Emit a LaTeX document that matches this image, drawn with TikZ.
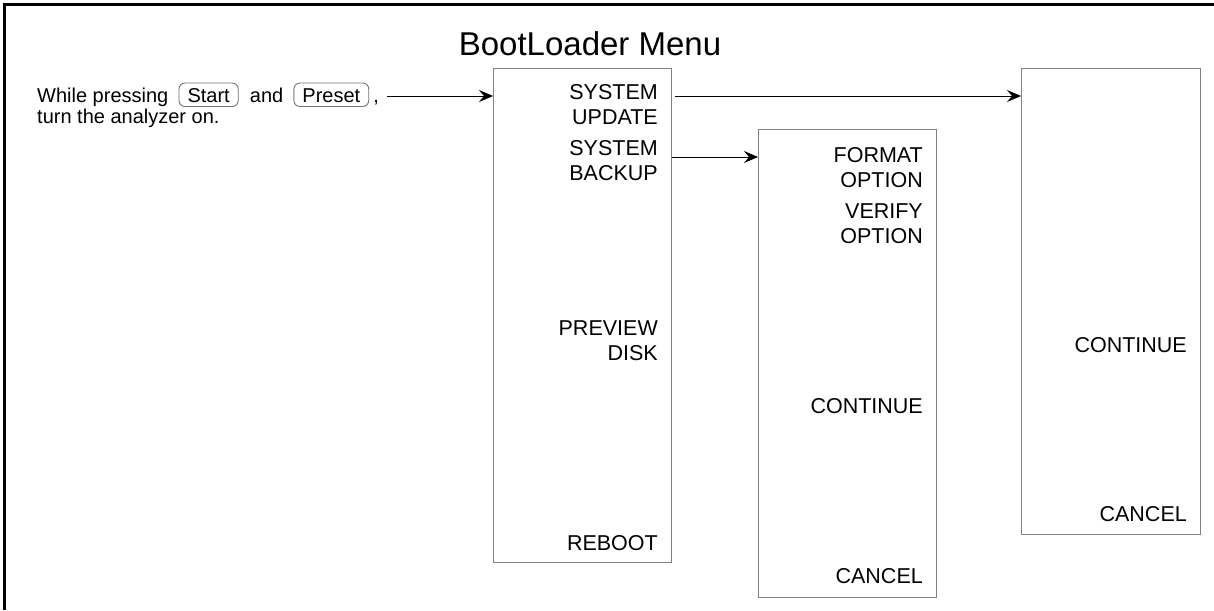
\documentclass[tikz,border=0pt]{standalone}
\usepackage{fontspec}
\setmainfont{Liberation Sans}
\usetikzlibrary{arrows.meta}
\begin{document}
\begin{tikzpicture}[x=1pt,y=-1pt,
  menubox/.style={draw=black!50, line width=1.1pt, anchor=north west, inner sep=0pt},
  lbl/.style={font=\fontsize{21.5}{25}\selectfont, align=right, anchor=base east, inner sep=0pt},
  txt/.style={font=\fontsize{20}{22}\selectfont, inner sep=0pt, anchor=base west},
  keycap/.style={draw=black!55, rounded corners=6pt, line width=0.9pt, inner xsep=8.5pt, inner ysep=0pt, text height=19pt, text depth=4.5pt, anchor=base west, font=\fontsize{20}{22}\selectfont},
  arr/.style={-{Stealth[length=14pt,width=12pt,inset=5pt]}, line width=0.9pt}]
\useasboundingbox (0,0) rectangle (1214,610);
% frame
\draw[line width=2.5pt] (4.5,610) -- (4.5,4.5) -- (1214,4.5);
% title
\node[font=\fontsize{33}{38}\selectfont, inner sep=0pt, anchor=base] (title) at (590,56) {BootLoader Menu};
% boxes
\node[menubox, minimum width=178pt, minimum height=494pt] (b1) at (493,68) {};
\node[menubox, minimum width=178pt, minimum height=468pt] (b2) at (758,129) {};
\node[menubox, minimum width=179pt, minimum height=466pt] (b3) at (1021,68) {};
% left instruction text
\node[txt] (t1) at (37,102) {While pressing};
\node[keycap] (kstart) at ([xshift=10pt]t1.base east) {Start};
\node[txt] (t2) at ([xshift=11pt]kstart.base east) {and};
\node[keycap] (kpreset) at ([xshift=10pt]t2.base east) {Preset};
\node[txt] (t3) at ([xshift=4pt]kpreset.base east) {,};
\node[txt] (t4) at (37,123) {turn the analyzer on.};
% box 1 labels
\node[lbl] (sysupd) at (658,124) {SYSTEM\\UPDATE};
\node[lbl] (sysbak) at (658,180) {SYSTEM\\BACKUP};
\node[lbl] (prev) at (658,360) {PREVIEW\\DISK};
\node[lbl] (reboot) at (658,550) {REBOOT};
% box 2 labels
\node[lbl] (fmt) at (923,187) {FORMAT\\OPTION};
\node[lbl] (ver) at (923,243) {VERIFY\\OPTION};
\node[lbl] (cont2) at (923,413) {CONTINUE};
\node[lbl] (canc2) at (923,583) {CANCEL};
% box 3 labels
\node[lbl] (cont3) at (1187,352) {CONTINUE};
\node[lbl] (canc3) at (1187,521) {CANCEL};
% connectors
\coordinate (s1) at (387,96);
\coordinate (s2) at (675,96);
\coordinate (y3) at (0,157);
\draw[arr] (s1) -- (b1.west |- s1);
\draw[arr] (s2) -- (b3.west |- s2);
\draw[arr] (b1.east |- y3) -- (b2.west |- y3);
\end{tikzpicture}
\end{document}
